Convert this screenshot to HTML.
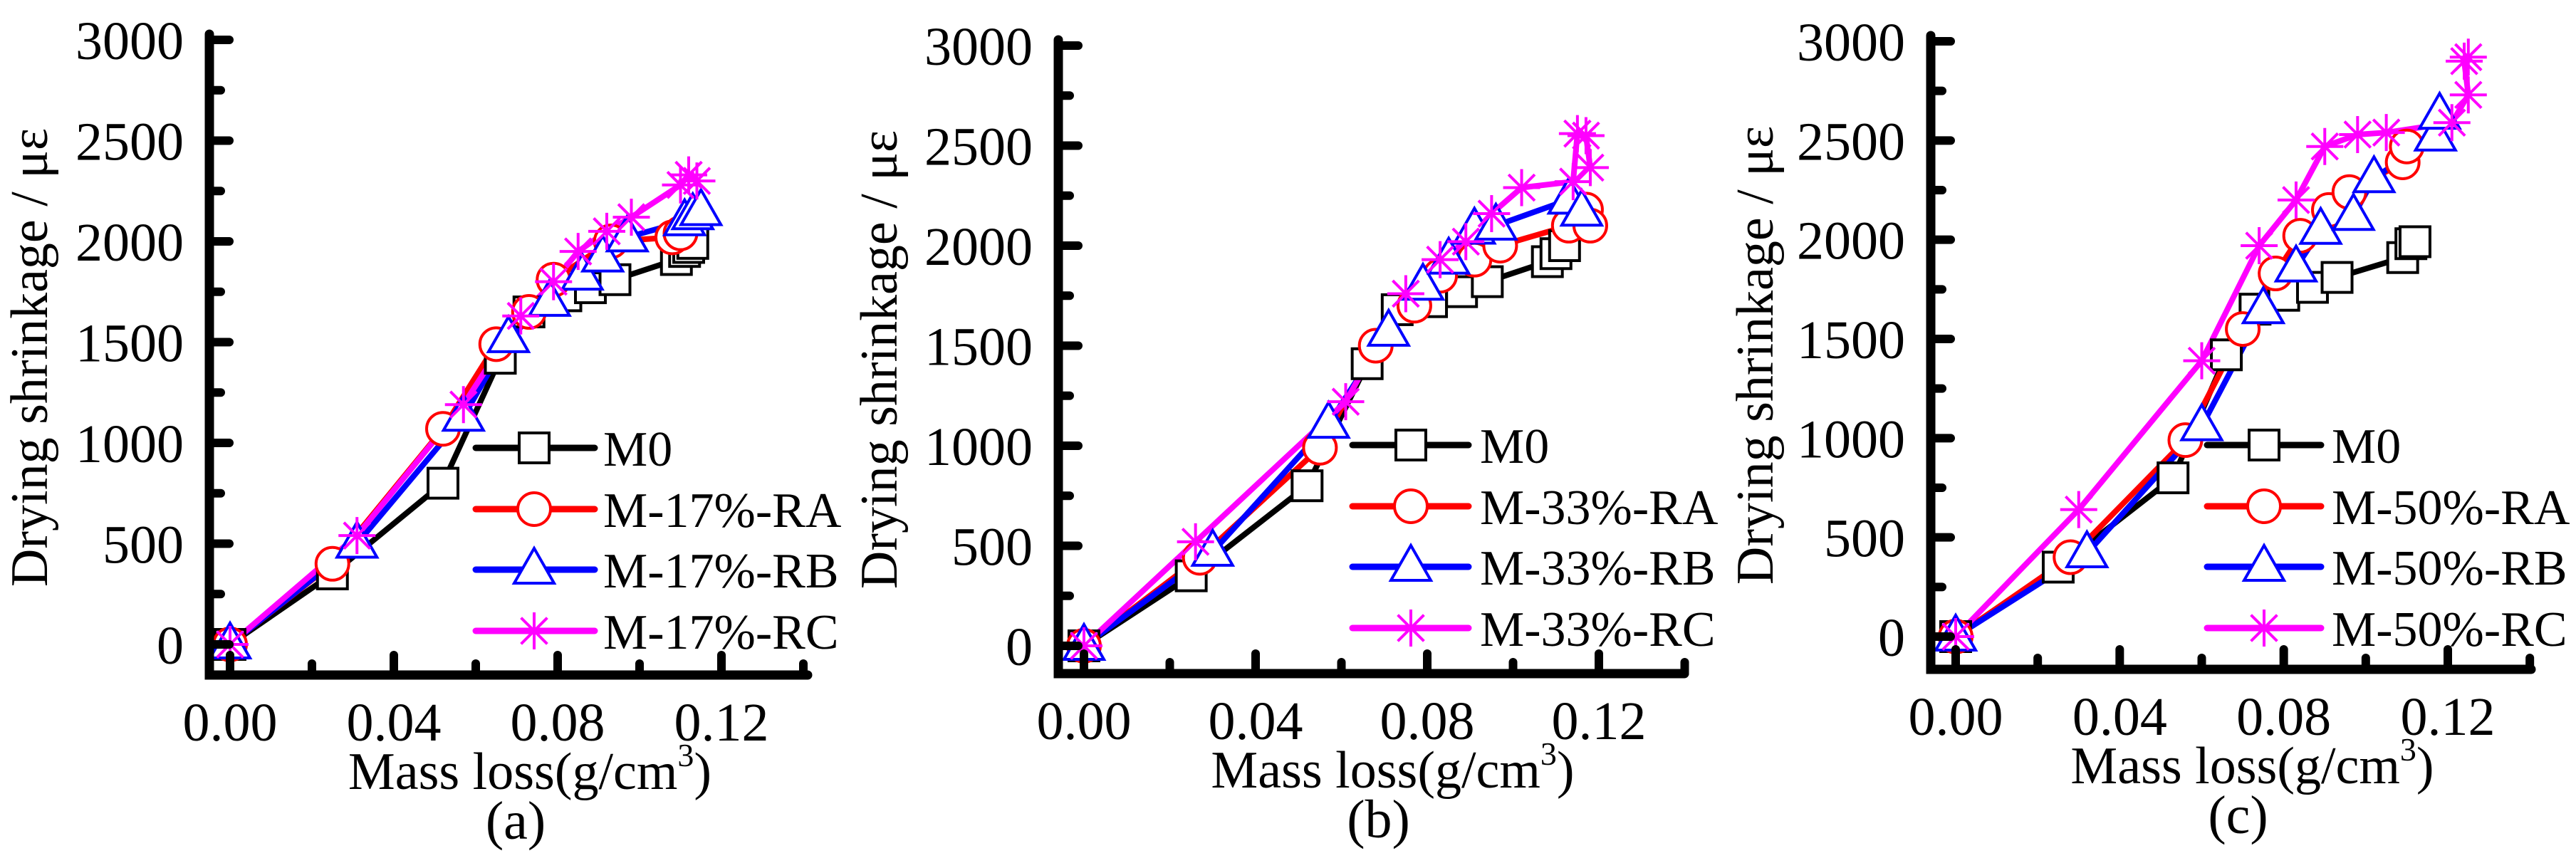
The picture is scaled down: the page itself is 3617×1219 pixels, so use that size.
<!DOCTYPE html>
<html><head><meta charset="utf-8"><style>
html,body{margin:0;padding:0;background:#fff;}
svg{display:block;font-family:"Liberation Serif",serif;}
</style></head><body>
<svg id="fig" width="3617" height="1219" viewBox="0 0 3617 1219" xmlns="http://www.w3.org/2000/svg"></svg>
<script>
const xTicks=[0,0.04,0.08,0.12];
const xTickLabels=["0.00","0.04","0.08","0.12"];
const yTicks=[0,500,1000,1500,2000,2500,3000];
const panelLabels=["(a)","(b)","(c)"];
const seriesNames=[["M0","M-17%-RA","M-17%-RB","M-17%-RC"],["M0","M-33%-RA","M-33%-RB","M-33%-RC"],["M0","M-50%-RA","M-50%-RB","M-50%-RC"]];
// panel a
const aM0X=[0,0.025,0.052,0.066,0.073,0.082,0.088,0.094,0.109,0.111,0.112,0.113];
const aM0Y=[0,350,800,1420,1650,1730,1770,1810,1910,1950,1970,1990];
const aRAX=[0,0.025,0.052,0.065,0.073,0.079,0.093,0.108,0.110];
const aRAY=[0,400,1070,1490,1650,1810,2000,2020,2040];
const aRBX=[0,0.031,0.057,0.068,0.078,0.086,0.091,0.097,0.111,0.113,0.115];
const aRBY=[0,500,1130,1520,1700,1830,1920,2020,2100,2130,2150];
const aRCX=[0,0.031,0.057,0.071,0.079,0.085,0.092,0.098,0.110,0.112,0.114];
const aRCY=[0,540,1190,1630,1800,1950,2050,2120,2280,2330,2300];
// panel b
const bM0X=[0,0.025,0.052,0.066,0.073,0.081,0.088,0.094,0.108,0.110,0.112];
const bM0Y=[0,350,800,1410,1680,1720,1770,1820,1920,1960,2000];
const bRAX=[0,0.027,0.055,0.068,0.077,0.083,0.091,0.097,0.113,0.117,0.118];
const bRAY=[0,440,990,1500,1700,1850,1930,2000,2100,2180,2100];
const bRBX=[0,0.030,0.057,0.071,0.079,0.085,0.091,0.096,0.113,0.116];
const bRBY=[0,470,1110,1570,1800,1930,2080,2100,2230,2170];
const bRCX=[0,0.026,0.061,0.075,0.083,0.089,0.095,0.102,0.114,0.115,0.117,0.118];
const bRCY=[0,520,1220,1760,1930,2020,2160,2290,2320,2560,2550,2390];
// panel c
const cM0X=[0,0.025,0.053,0.066,0.073,0.080,0.087,0.093,0.109,0.111,0.112];
const cM0Y=[0,350,800,1420,1650,1720,1760,1810,1910,1980,1990];
const cRAX=[0,0.028,0.056,0.070,0.078,0.084,0.091,0.096,0.109,0.110];
const cRAY=[0,400,990,1550,1830,2020,2150,2240,2390,2470];
const cRBX=[0,0.032,0.060,0.075,0.083,0.089,0.097,0.102,0.117,0.118];
const cRBY=[0,420,1060,1650,1860,2050,2120,2310,2520,2630];
const cRCX=[0,0.030,0.060,0.074,0.083,0.090,0.098,0.105,0.121,0.125,0.124,0.125];
const cRCY=[0,640,1390,1970,2200,2470,2530,2540,2590,2730,2900,2920];

const panels=[
 {ax:294,x0:323,x12:1013,xr:1134,y0:905,y3k:56,yb:948,ylx:40,leg:{l1:668,l2:835,m:750,t:847,rows:[629,715,800,886]},
  data:[[aM0X,aM0Y],[aRAX,aRAY],[aRBX,aRBY],[aRCX,aRCY]]},
 {ax:1486,x0:1522,x12:2245,xr:2365,y0:907,y3k:64,yb:946,ylx:1233,leg:{l1:1899,l2:2062,m:1981,t:2078,rows:[625,711,796,882]},
  data:[[bM0X,bM0Y],[bRAX,bRAY],[bRBX,bRBY],[bRCX,bRCY]]},
 {ax:2711,x0:2746,x12:3437,xr:3554,y0:894,y3k:58,yb:940,ylx:2463,leg:{l1:3099,l2:3259,m:3179,t:3274,rows:[625,711,796,882]},
  data:[[cM0X,cM0Y],[cRAX,cRAY],[cRBX,cRBY],[cRCX,cRCY]]}
];
const colors=["#000","#ff0000","#0000ff","#ff00ff"];
const markers=["square","circle","triangle","star"];
const svg=document.getElementById('fig');
const NS="http://www.w3.org/2000/svg";
function mk(t,a,p){const e=document.createElementNS(NS,t);for(const k in a)e.setAttribute(k,a[k]);(p||svg).appendChild(e);return e;}
function marker(g,type,cx,cy,col){
 let e;
 if(type==="square"){e=mk('rect',{x:cx-21,y:cy-21,width:42,height:42,fill:'#fff',stroke:col,'stroke-width':4},g);}
 else if(type==="circle"){e=mk('circle',{cx:cx,cy:cy,r:23,fill:'#fff',stroke:col,'stroke-width':4},g);}
 else if(type==="triangle"){e=mk('polygon',{points:`${cx},${cy-30} ${cx-28},${cy+19} ${cx+28},${cy+19}`,fill:'#fff',stroke:col,'stroke-width':4},g);}
 else {let d="";for(let k=0;k<4;k++){const a=k*Math.PI/4;d+=`M${cx-26*Math.cos(a)},${cy-26*Math.sin(a)}L${cx+26*Math.cos(a)},${cy+26*Math.sin(a)}`;}
  e=mk('path',{d:d,stroke:col,'stroke-width':4,fill:'none'},g);}
 
 
}
panels.forEach((P,pi)=>{
 const sx=v=>P.x0+(v)*(P.x12-P.x0)/0.12;
 const sy=v=>P.y0-(v)*(P.y0-P.y3k)/3000;
 const g=mk('g',{});
 
 
 P.data.forEach((d,si)=>{
  const sg=mk('g',{},g);
  
  
  const pts=d[0].map((x,i)=>sx(x)+','+sy(d[1][i])).join(' ');
  const pl=mk('polyline',{points:pts,fill:'none',stroke:colors[si],'stroke-width':8,'stroke-linecap':'round','stroke-linejoin':'round'},sg);
  
  
 });
 P.data.forEach((d,si)=>{
  const mg=mk('g',{},g);
  
  
  d[0].forEach((x,i)=>marker(mg,markers[si],sx(x),sy(d[1][i]),colors[si]));
 });
 const ax=mk('path',{d:`M${P.ax},${P.y3k-8}L${P.ax},${P.yb}L${P.xr},${P.yb}`,stroke:'#000','stroke-width':13,fill:'none','stroke-linecap':'round','stroke-linejoin':'miter'},g);
 
 
 for(let v=0;v<=3000;v+=250){
  const major=v%500===0;
  const t=mk('line',{x1:P.ax,y1:sy(v),x2:P.ax+(major?28:16),y2:sy(v),stroke:'#000','stroke-width':12,'stroke-linecap':'round'},g);
  
  
 }
 yTicks.forEach(v=>{
  const t=mk('text',{x:P.ax-36,y:sy(v)+27,'font-size':76,'text-anchor':'end'},g);t.textContent=v;
  
  
 });
 for(let v=0.02;v<=0.141;v+=0.02){
  const major=Math.round(v*100)%4===0;
  const t=mk('line',{x1:sx(v),y1:P.yb,x2:sx(v),y2:P.yb-(major?28:16),stroke:'#000','stroke-width':12,'stroke-linecap':'round'},g);
  
  
 }
 {const t=mk('line',{x1:sx(0),y1:P.yb,x2:sx(0),y2:P.yb-28,stroke:'#000','stroke-width':12,'stroke-linecap':'round'},g);
  
  }
 xTicks.forEach((v,i)=>{
  const t=mk('text',{x:sx(v),y:P.yb+92,'font-size':76,'text-anchor':'middle'},g);t.textContent=xTickLabels[i];
  
  
 });
 const yt=mk('text',{x:0,y:0,'font-size':74,'text-anchor':'middle',transform:`translate(${P.ylx+26},${(P.y3k+P.yb)/2}) rotate(-90)`},g);
 yt.textContent="Drying shrinkage / με";
 
 
 const xt=mk('text',{x:(P.ax+P.xr)/2+30,y:P.yb+160,'font-size':74,'text-anchor':'middle'},g);
 xt.innerHTML='Mass loss(g/cm<tspan dy="-32" font-size="46">3</tspan><tspan dy="32">)</tspan>';
 
 
 const pl=mk('text',{x:(P.ax+P.xr)/2+10,y:P.yb+230,'font-size':76,'text-anchor':'middle'},g);
 pl.textContent=panelLabels[pi];
 
 
 const lg=mk('g',{},g);
 
 
 P.leg.rows.forEach((ry,si)=>{
  const e=mk('g',{},lg);
  
  
  mk('line',{x1:P.leg.l1,y1:ry,x2:P.leg.l2,y2:ry,stroke:colors[si],'stroke-width':9,'stroke-linecap':'round'},e);
  marker(e,markers[si],P.leg.m,ry,colors[si]);
  const t=mk('text',{x:P.leg.t,y:ry+25,'font-size':70},e);t.textContent=seriesNames[pi][si];
 });
});
</script>
</body></html>
